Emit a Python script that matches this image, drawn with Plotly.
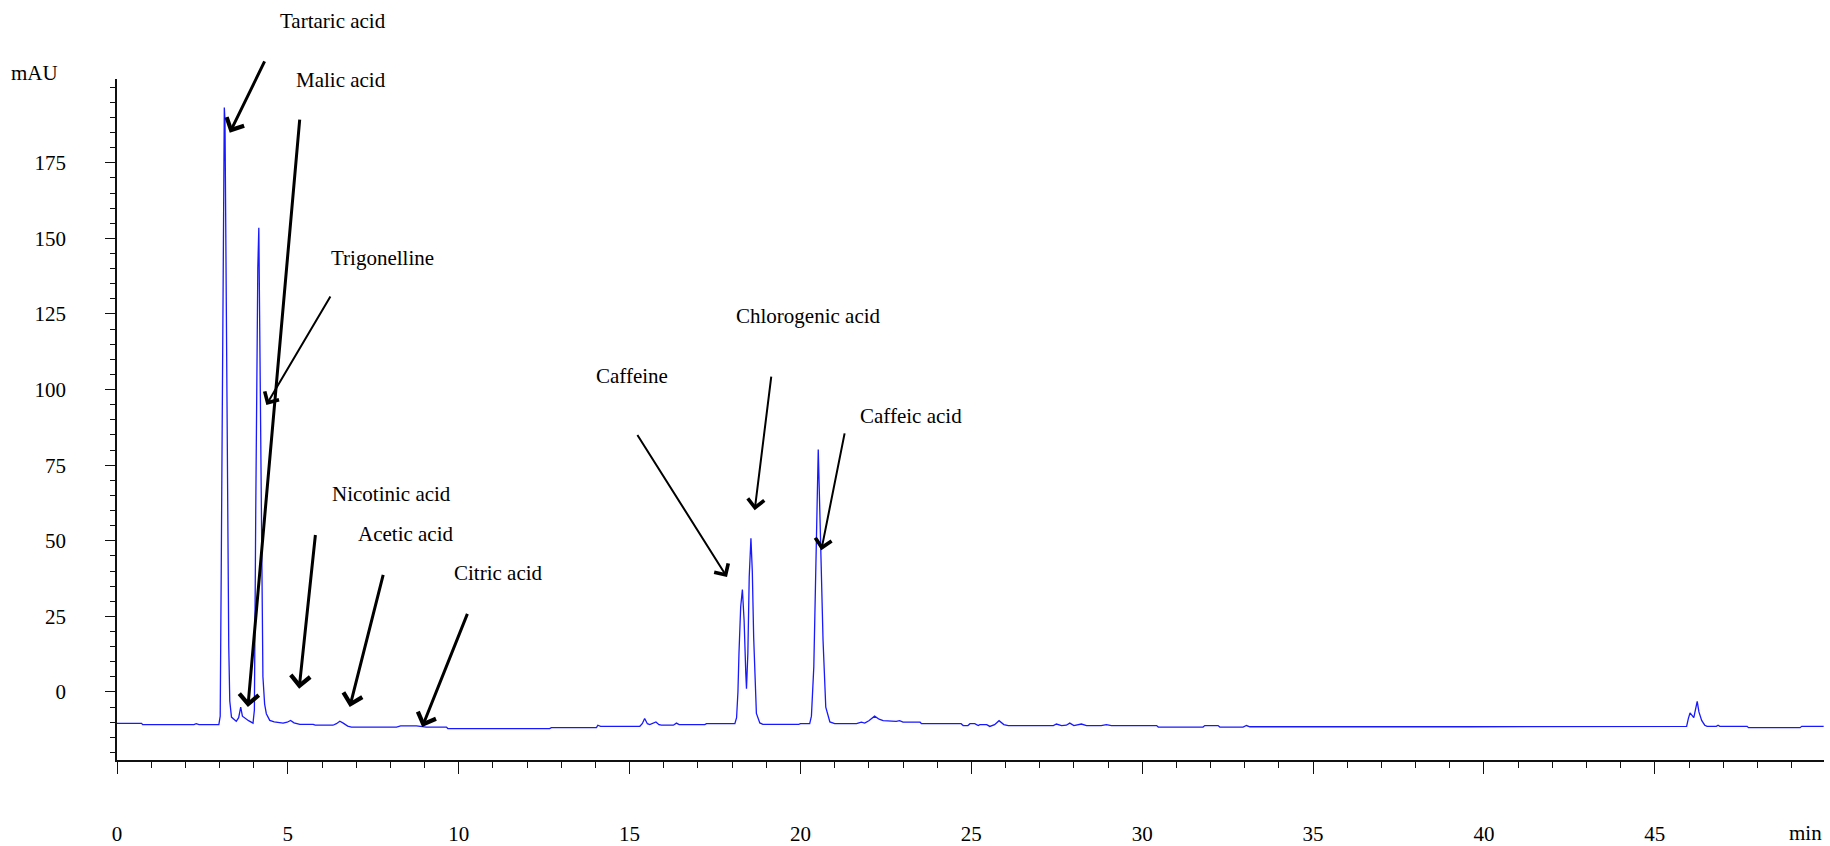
import plotly.graph_objects as go

# ---- chromatogram data (retention time in min, signal in mAU) ----
time_min = [
    0.00, 0.72, 0.75, 2.25, 2.32, 2.40, 2.98, 3.02, 3.05, 3.08, 3.11, 3.14, 3.16, 3.18,
    3.21, 3.24, 3.27, 3.30, 3.35, 3.42, 3.49, 3.56, 3.62, 3.67, 3.75, 3.85, 3.98, 4.02,
    4.06, 4.09, 4.12, 4.15, 4.17, 4.20, 4.23, 4.27, 4.32, 4.37, 4.47, 4.60, 4.86, 4.98,
    5.08, 5.18, 5.35, 5.74, 5.80, 6.32, 6.42, 6.52, 6.62, 6.75, 6.86, 8.18, 8.30, 8.76,
    9.05, 9.64, 9.68, 12.66, 12.71, 14.03, 14.07, 14.15, 15.30, 15.37, 15.44, 15.52,
    15.59, 15.68, 15.77, 15.86, 15.93, 16.28, 16.37, 16.45, 17.20, 17.25, 18.08, 18.13,
    18.17, 18.20, 18.25, 18.30, 18.35, 18.40, 18.42, 18.46, 18.50, 18.55, 18.59, 18.63,
    18.71, 18.81, 18.90, 19.95, 20.00, 20.27, 20.32, 20.39, 20.45, 20.52, 20.58, 20.66,
    20.74, 20.86, 21.00, 21.64, 21.78, 21.88, 22.00, 22.17, 22.30, 22.42, 22.80, 22.90,
    23.00, 23.50, 23.54, 24.70, 24.76, 24.90, 24.96, 25.10, 25.20, 25.25, 25.45, 25.54,
    25.68, 25.81, 25.95, 26.08, 27.40, 27.49, 27.64, 27.78, 27.88, 28.00, 28.22, 28.37,
    28.80, 28.95, 29.10, 30.42, 30.47, 31.78, 31.83, 32.22, 32.27, 32.95, 33.05, 33.15,
    39.60, 45.93, 45.98, 46.03, 46.14, 46.24, 46.29, 46.37, 46.46, 46.53, 46.80, 46.85,
    46.90, 47.70, 47.74, 49.25, 49.30, 49.94,
]
signal_mau = [
    -10.4, -10.4, -10.8, -10.8, -10.5, -10.8, -10.8, -8.0, 40, 100, 176, 193.3, 189, 150,
    100, 54, 15, -3, -8.3, -9.0, -9.7, -8.5, -5.0, -8.0, -8.8, -9.5, -10.3, -6,
    60, 108, 140, 153.5, 127, 84, 40, 5, -4, -7.2, -9.4, -9.9, -10.3, -10.0,
    -9.4, -10.2, -10.7, -10.7, -11.0, -11.0, -10.5, -9.7, -10.3, -11.3, -11.6, -11.6, -11.2, -11.2,
    -11.6, -11.6, -12.1, -12.1, -11.8, -11.8, -11.0, -11.35, -11.35, -10.5, -8.8, -10.5,
    -10.8, -10.4, -9.9, -10.8, -11.0, -11.0, -10.3, -10.8, -10.8, -10.5, -10.5, -8.5,
    0, 12.7, 28.1, 33.9, 23.7, 6.1, 1.1, 12.7, 38, 50.8, 40, 18.2,
    -7.1, -10.25, -10.7, -10.7, -10.5, -10.5, -8, 8.3, 45.8, 80.2, 53.5, 17.1,
    -5.0, -9.9, -10.5, -10.5, -10.0, -10.3, -9.5, -8.0, -9.0, -9.5, -9.7, -9.5,
    -10.0, -10.0, -10.5, -10.5, -11.1, -11.1, -10.5, -10.5, -11.1, -10.8, -10.8, -11.4,
    -10.8, -9.5, -10.8, -11.1, -11.1, -10.6, -11.1, -11.0, -10.3, -11.1, -10.6, -11.1,
    -11.1, -10.8, -11.1, -11.1, -11.6, -11.6, -11.1, -11.1, -11.6, -11.6, -11.1, -11.5,
    -11.5, -11.4, -8.8, -6.9, -8.5, -3.1, -6.6, -9.4, -11.0, -11.35, -11.35, -11.0,
    -11.35, -11.35, -11.8, -11.8, -11.35, -11.35,
]

# axis tick labels
y_tick_values = [0, 25, 50, 75, 100, 125, 150, 175]
x_tick_values = [0, 5, 10, 15, 20, 25, 30, 35, 40, 45]

# ---- peak labels: text position and arrow (tail -> head) in data units ----
label_names = ["Tartaric acid", "Malic acid", "Trigonelline", "Nicotinic acid",
               "Acetic acid", "Citric acid", "Caffeine", "Chlorogenic acid", "Caffeic acid"]
label_x = [6.33, 6.54, 7.76, 8.02, 8.47, 11.16, 15.06, 20.22, 23.24]
label_y = [221.9, 202.4, 143.4, 65.4, 52.4, 39.4, 104.5, 124.4, 91.3]
tail_x = [4.34, 5.35, 6.27, 5.81, 7.80, 10.27, 15.20, 19.15, 21.30]
tail_y = [209.0, 189.8, 131.3, 52.4, 39.2, 26.3, 85.5, 104.8, 86.0]
head_x = [3.30, 3.83, 4.37, 5.33, 6.81, 8.93, 17.85, 18.66, 20.61]
head_y = [184.9, -5.0, 94.9, 1.1, -5.0, -11.6, 38.0, 60.1, 46.9]
arrow_bold = [True, True, False, True, True, True, False, False, False]

X_RANGE = [0, 49.95]
Y_RANGE = [-22.5, 202.7]
FONT = "Liberation Serif, Times New Roman, serif"
ML, MR, MT, MB = 117, 6, 79, 86
W, H = 1830, 846

fig = go.Figure()
fig.add_trace(go.Scatter(
    x=time_min, y=signal_mau, mode="lines",
    line=dict(color="rgb(25,25,255)", width=1.3),
    showlegend=False, hoverinfo="x+y",
))

def to_paper_y(v):
    return (v - Y_RANGE[0]) / (Y_RANGE[1] - Y_RANGE[0])

def px_to_paper_x(px):
    return (px - ML) / (W - ML - MR)

annotations = []
for name, lx, ly in zip(label_names, label_x, label_y):
    annotations.append(dict(
        text=name, x=lx, xref="x", y=to_paper_y(ly), yref="paper",
        showarrow=False, xanchor="center", yanchor="middle",
        font=dict(family=FONT, size=21, color="black"),
    ))
for tx, ty, hx, hy, bold in zip(tail_x, tail_y, head_x, head_y, arrow_bold):
    annotations.append(dict(
        text="", x=hx, y=hy, xref="x", yref="y",
        ax=tx, ay=ty, axref="x", ayref="y",
        showarrow=True, arrowhead=4,
        arrowwidth=3 if bold else 2,
        arrowsize=1.25 if bold else 1.6,
        arrowcolor="black", standoff=0,
    ))
# axis unit labels
annotations.append(dict(
    text="mAU", x=px_to_paper_x(60), xref="paper", xanchor="right",
    y=to_paper_y(Y_RANGE[1] + 2.0), yref="paper", yanchor="middle",
    showarrow=False, font=dict(family=FONT, size=21, color="black"),
))
annotations.append(dict(
    text="min", x=1, xref="paper", xanchor="right",
    y=to_paper_y(Y_RANGE[0] - 24.0), yref="paper", yanchor="middle",
    showarrow=False, font=dict(family=FONT, size=21, color="black"),
))

fig.update_layout(
    width=W, height=H,
    margin=dict(l=ML, r=MR, t=MT, b=MB, autoexpand=False),
    paper_bgcolor="white", plot_bgcolor="white",
    annotations=annotations,
    font=dict(family=FONT, size=21, color="black"),
)
fig.update_xaxes(
    range=X_RANGE, showgrid=False, zeroline=False, automargin=False,
    showline=True, linecolor="#111", linewidth=1.5,
    ticks="outside", ticklen=12, tickwidth=1.3, tickcolor="#111",
    tickmode="array", tickvals=x_tick_values,
    ticklabelstandoff=42,
    tickfont=dict(family=FONT, size=21, color="black"),
    minor=dict(ticks="outside", ticklen=6, tickwidth=1.2, tickcolor="#111",
               tickmode="linear", dtick=1, tick0=0, showgrid=False),
)
fig.update_yaxes(
    range=Y_RANGE, showgrid=False, zeroline=False, automargin=False,
    showline=True, linecolor="#111", linewidth=1.5,
    ticks="outside", ticklen=10, tickwidth=1.3, tickcolor="#111",
    tickmode="array", tickvals=y_tick_values,
    ticklabelstandoff=35,
    tickfont=dict(family=FONT, size=21, color="black"),
    minor=dict(ticks="outside", ticklen=5, tickwidth=1.2, tickcolor="#111",
               tickmode="linear", dtick=5, tick0=0, showgrid=False),
)

fig.write_html(
    "out.html",
    config={"displayModeBar": False},
    post_script="document.body.style.margin='0px';document.body.style.overflow='hidden';",
)
